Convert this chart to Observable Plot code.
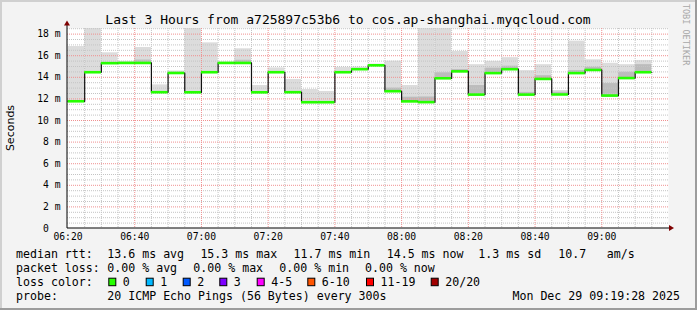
<!DOCTYPE html>
<html><head><meta charset="utf-8">
<script src="https://cdn.jsdelivr.net/npm/d3@7"></script>
<script src="https://cdn.jsdelivr.net/npm/@observablehq/plot@0.6"></script>
<style>
html,body{margin:0;padding:0;background:#f3f3f3;}
#chart svg{display:block;}
</style></head><body><div id="chart"></div>
<script>
// ---- data ----
const times = ["06:20","06:25","06:30","06:35","06:40","06:45","06:50","06:55","07:00","07:05",
  "07:10","07:15","07:20","07:25","07:30","07:35","07:40","07:45","07:50","07:55",
  "08:00","08:05","08:10","08:15","08:20","08:25","08:30","08:35","08:40","08:45",
  "08:50","08:55","09:00","09:05","09:10"];
const medianRtt = [11.78,14.47,15.31,15.33,15.33,12.62,14.40,12.61,14.47,15.33,
  15.33,12.61,14.47,12.62,11.69,11.69,14.47,14.75,15.11,12.71,
  11.77,11.70,13.91,14.55,12.40,14.39,14.75,12.40,13.85,12.41,
  14.39,14.68,12.31,13.93,14.47];
const maxRtt = [16.85,19.0,16.27,15.48,16.76,13.30,14.58,19.0,17.19,15.42,
  16.64,13.24,14.87,13.80,12.87,12.69,14.92,14.94,15.22,15.50,
  13.24,19.0,19.0,16.39,15.17,15.48,15.82,14.62,15.17,12.78,
  17.35,15.62,15.30,15.17,15.56];
const denseRtt = [11.78,14.47,15.31,15.33,15.60,12.62,14.40,12.61,14.47,15.33,
  15.58,12.61,14.47,12.62,11.69,11.69,14.47,14.75,15.11,13.00,
  12.16,12.18,14.42,14.72,13.24,14.85,15.03,12.60,14.15,12.62,
  14.62,14.93,13.42,14.47,15.17];
const yTicks = [0,2,4,6,8,10,12,14,16,18];
const xTickLabels = ["06:20","06:40","07:00","07:20","07:40","08:00","08:20","08:40","09:00"];
const lossLabels = ["0","1","2","3","4-5","6-10","11-19","20/20"];
const lossColors = ["#26ff00","#00b8ff","#0059ff","#7e00ff","#ff00ff","#ff5500","#ff0000","#a10000"];
const titleText = "Last 3 Hours from a725897c53b6 to cos.ap-shanghai.myqcloud.com";
const rttLegend = ["median rtt:","13.6 ms avg","15.3 ms max","11.7 ms min","14.5 ms now","1.3 ms sd","10.7","am/s"];
const lossLegend = ["packet loss:","0.00 % avg","0.00 % max","0.00 % min","0.00 % now"];
const probeLegend = ["probe:","20 ICMP Echo Pings (56 Bytes) every 300s","Mon Dec 29 09:19:28 2025"];

// ---- build ----
const T = s => { const [h,m] = s.split(":").map(Number); return new Date(Date.UTC(2025,11,29,h,m)); };
const rows = times.map((s,i) => { const start = T(s); return {start, end: new Date(+start + 300000), median: medianRtt[i], max: maxRtt[i], dense: denseRtt[i]}; });
const linePts = rows.map(r => ({t: r.start, v: r.median})).concat([{t: rows[rows.length-1].end, v: rows[rows.length-1].median}]);
const x0 = T("06:20"), x1 = T("09:20");
const minorX = d3.utcMinute.every(5).range(x0, x1).filter(d => d.getUTCMinutes() % 20 !== 0);
const majorX = xTickLabels.map(T).filter(d => +d !== +x0);
const minorY = d3.range(0.5, 18.6, 0.5).filter(v => v % 2 !== 0);
const majorY = yTicks.filter(v => v > 0);
const mono = "DejaVu Sans Mono";

const chart = Plot.plot({
  width: 697, height: 310,
  marginLeft: 67, marginRight: 29, marginTop: 28, marginBottom: 82,
  style: {background: "#f3f3f3", fontFamily: mono, fontSize: "9.7px", color: "#000", overflow: "visible"},
  x: {type: "utc", domain: [x0, x1], range: [67.5, 668], label: null},
  y: {domain: [0, 18.52], range: [228, 28], label: null},
  marks: [
    Plot.frame({fill: "#ffffff", stroke: null}),
    Plot.rect(rows, {x1: "start", x2: "end", y1: "median", y2: "max", fill: "#dcdcdc", clip: true}),
    Plot.rect(rows, {x1: "start", x2: "end", y1: "median", y2: "dense", fill: "#bcbcbc", clip: true}),
    Plot.ruleY(minorY, {stroke: "#c4c4c4", strokeDasharray: "1,1"}),
    Plot.ruleX(minorX, {stroke: "#c4c4c4", strokeDasharray: "1,1"}),
    Plot.ruleY(majorY, {stroke: "#f09090", strokeDasharray: "1,1"}),
    Plot.ruleX(majorX, {stroke: "#f09090", strokeDasharray: "1,1"}),
    Plot.line(linePts, {x: "t", y: "v", curve: "step-after", stroke: "#111", strokeWidth: 1.2}),
    Plot.ruleY(rows, {y: "median", x1: "start", x2: "end", stroke: "#26ff00", strokeWidth: 2.6}),
    Plot.axisY({ticks: yTicks, tickSize: 0, tickPadding: 7, label: null,
      tickFormat: d => d === 0 ? "0\u00a0\u00a0" : d + " m"}),
    Plot.axisX({ticks: xTickLabels.map(T), tickSize: 0, tickPadding: 5, label: null,
      tickFormat: d3.utcFormat("%H:%M")})
  ]
});
document.getElementById("chart").appendChild(chart);

const svg = d3.select(chart);
const sx = chart.scale("x"), sy = chart.scale("y");
const ax = sx.apply(x0) - 0.5, ay = sy.apply(0);
// axes
svg.append("line").attr("x1", ax).attr("x2", 671).attr("y1", ay).attr("y2", ay).attr("stroke", "#000");
svg.append("line").attr("x1", ax).attr("x2", ax).attr("y1", ay).attr("y2", 23).attr("stroke", "#000");
svg.append("path").attr("d", `M${ax-3},${25.5}L${ax+3},${25.5}L${ax},${20.5}Z`).attr("fill", "#7f0000");
svg.append("path").attr("d", `M${669},${ay-3}L${669},${ay+3}L${674},${ay}Z`).attr("fill", "#7f0000");
// borders
svg.append("rect").attr("x", 0).attr("y", 0).attr("width", 697).attr("height", 2).attr("fill", "#d0d0d0");
svg.append("rect").attr("x", 0).attr("y", 0).attr("width", 2).attr("height", 310).attr("fill", "#d0d0d0");
svg.append("rect").attr("x", 0).attr("y", 308).attr("width", 697).attr("height", 2).attr("fill", "#9c9c9c");
svg.append("rect").attr("x", 695).attr("y", 0).attr("width", 2).attr("height", 310).attr("fill", "#9c9c9c");
// title
svg.append("text").attr("x", 348).attr("y", 24).attr("text-anchor", "middle")
  .attr("font-family", mono).attr("font-size", "13px").text(titleText);
// y label
svg.append("text").attr("transform", "translate(14,128) rotate(-90)").attr("text-anchor", "middle")
  .attr("font-family", "DejaVu Sans").attr("font-size", "11px").text("Seconds");
// watermark
svg.append("text").attr("transform", "translate(686,9) rotate(90)").attr("dominant-baseline", "central")
  .attr("font-family", mono).attr("font-size", "8.5px").attr("fill", "#a8a8a8").text("RRDTOOL / TOBI OETIKER");
// legends
const L = (str, x, y, anchor) => svg.append("text").attr("x", x).attr("y", y)
  .attr("text-anchor", anchor || "start").attr("font-family", mono).attr("font-size", "11.6px").text(str);
const rttX = [16, 107.3, 200.4, 293.5, 386.7, 478.3, 558.3, 606.7];
rttLegend.forEach((s, i) => L(s, rttX[i], 257.5));
const lossX = [16, 107.3, 193.3, 279.3, 365];
lossLegend.forEach((s, i) => L(s, lossX[i], 271.5));
L("loss color:", 16, 285.5);
const boxX = [108.3, 145.7, 182.7, 219.3, 256.7, 307.3, 366, 430.7];
lossLabels.forEach((s, i) => {
  svg.append("rect").attr("x", boxX[i] + 0.5).attr("y", 278.2).attr("width", 7).attr("height", 7.5)
    .attr("fill", lossColors[i]).attr("stroke", "#000").attr("stroke-width", 1);
  L(s, boxX[i] + 14.5, 285.5);
});
L(probeLegend[0], 16, 299.5);
L(probeLegend[1], 107.3, 299.5);
L(probeLegend[2], 680, 299.5, "end");
</script></body></html>
